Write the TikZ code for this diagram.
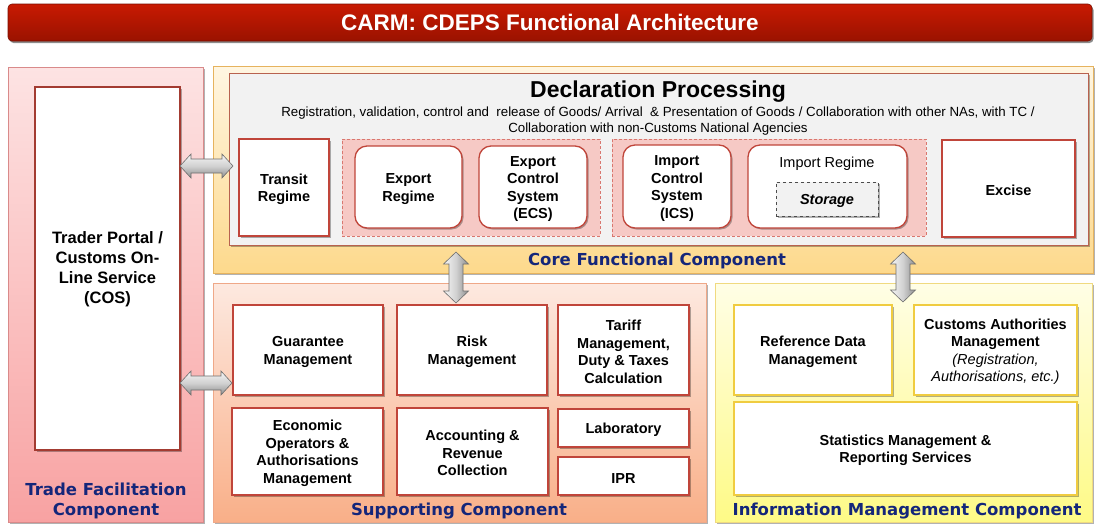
\documentclass[tikz,border=0pt]{standalone}
\usepackage{fontspec}
\setmainfont{Liberation Sans}
\newfontfamily\lblfont{DejaVu Sans}
\usetikzlibrary{shadows,calc}

\definecolor{titleTop}{HTML}{C81A02}
\definecolor{titleBot}{HTML}{9A1200}
\definecolor{tradeTop}{HTML}{FDE3E3}
\definecolor{tradeBot}{HTML}{F8A2A2}
\definecolor{tradeLine}{HTML}{D98A8A}
\definecolor{coreTop}{HTML}{FFF6E2}
\definecolor{coreBot}{HTML}{FDD98C}
\definecolor{coreLine}{HTML}{E6B35E}
\definecolor{suppTop}{HTML}{FDE9E0}
\definecolor{suppBot}{HTML}{F9AF88}
\definecolor{suppLine}{HTML}{EFA888}
\definecolor{infoTop}{HTML}{FFFEE6}
\definecolor{infoBot}{HTML}{FEFA86}
\definecolor{infoLine}{HTML}{F0DA80}
\definecolor{redLine}{HTML}{C0453A}
\definecolor{goldLine}{HTML}{F0CC40}
\definecolor{grpFill}{HTML}{F6C9C5}
\definecolor{grpLine}{HTML}{D9776F}
\definecolor{declFill}{HTML}{F2F2F2}
\definecolor{declLine}{HTML}{B8624F}
\definecolor{navy}{HTML}{14267A}
\definecolor{arrLight}{HTML}{F6F6F6}
\definecolor{arrDark}{HTML}{8E8E8E}
\definecolor{arrLine}{HTML}{6E6E6E}

\newcommand{\myT}{\rule{0pt}{14pt}}
\newcommand{\myHarrow}[2]{%
  \shadedraw[harrowsty] let \p1=(#1), \p2=(#2) in
  (\x1,\y1) -- (\x1+11pt,\y1+12pt) -- (\x1+11pt,\y1+7pt) -- (\x2-11pt,\y1+7pt)
  -- (\x2-11pt,\y1+12pt) -- (\x2,\y1) -- (\x2-11pt,\y1-12pt) -- (\x2-11pt,\y1-7pt)
  -- (\x1+11pt,\y1-7pt) -- (\x1+11pt,\y1-12pt) -- cycle;}
\newcommand{\myVarrow}[2]{%
  \shadedraw[varrowsty] let \p1=(#1), \p2=(#2) in
  (\x1,\y1) -- (\x1+12.5pt,\y1-12pt) -- (\x1+7pt,\y1-12pt) -- (\x1+7pt,\y2+12pt)
  -- (\x1+12.5pt,\y2+12pt) -- (\x1,\y2) -- (\x1-12.5pt,\y2+12pt) -- (\x1-7pt,\y2+12pt)
  -- (\x1-7pt,\y1-12pt) -- (\x1-12.5pt,\y1-12pt) -- cycle;}

\tikzset{
  myshadow/.style={drop shadow={shadow xshift=1.5pt, shadow yshift=-1.5pt, opacity=0.3, fill=black}},
  panel/.style={rectangle, inner sep=0pt, outer sep=0pt, line width=0.8pt, myshadow},
  titlebar/.style={rectangle, rounded corners=4pt, inner sep=0pt, top color=titleTop, bottom color=titleBot,
    draw=titleBot!80!black, line width=0.6pt, text=white, font=\bfseries\fontsize{22.5}{26}\selectfont,
    drop shadow={shadow xshift=1.5pt, shadow yshift=-2pt, opacity=0.45, fill=black}},
  rbox/.style={rectangle, inner sep=0pt, outer sep=0pt, fill=white, draw=redLine, line width=1.3pt,
    align=center, font=\bfseries\fontsize{14.5}{17.5}\selectfont, myshadow},
  rrbox/.style={rbox, rounded corners=12pt},
  ybox/.style={rbox, draw=goldLine},
  grp/.style={rectangle, inner sep=0pt, fill=grpFill, draw=grpLine, densely dashed, line width=0.7pt},
  decl/.style={rectangle, inner sep=0pt, fill=declFill, draw=declLine, line width=1pt, myshadow},
  storebox/.style={rectangle, inner sep=0pt, fill=declFill, draw=black!70, dashed, line width=1pt,
    font=\bfseries\itshape\fontsize{14.5}{17.5}\selectfont, myshadow},
  lbl/.style={inner sep=0pt, align=center, text=navy, font=\lblfont\bfseries\fontsize{16.5}{20}\selectfont},
  txt/.style={inner sep=0pt, align=center, font=\bfseries\fontsize{14.5}{17.5}\selectfont},
  harrowsty/.style={top color=arrLight, bottom color=arrDark, middle color=black!18, draw=arrLine, line width=0.6pt},
  varrowsty/.style={left color=arrLight, right color=arrDark, middle color=black!18, draw=arrLine, line width=0.6pt}
}

\begin{document}
\begin{tikzpicture}[x=1pt, y=-1pt]
\useasboundingbox[fill=white] (0,0) rectangle (1095,523);

% title
\node[titlebar, minimum width=1084pt, minimum height=37pt] (title) at (550,22.5) {CARM: CDEPS Functional Architecture};

% panels
\node[panel, top color=tradeTop, bottom color=tradeBot, draw=tradeLine, minimum width=195pt, minimum height=455pt] (trade) at (105.5,294.5) {};
\node[panel, top color=coreTop, bottom color=coreBot, draw=coreLine, minimum width=880pt, minimum height=207pt] (core) at (653,169.5) {};
\node[panel, top color=suppTop, bottom color=suppBot, draw=suppLine, minimum width=493pt, minimum height=239pt] (supp) at (459.5,402.5) {};
\node[panel, top color=infoTop, bottom color=infoBot, draw=infoLine, minimum width=377pt, minimum height=239pt] (info) at (903.5,402.5) {};

% trade facilitation
\node[rbox, draw=redLine!85!black, font=\bfseries\fontsize{16.5}{20}\selectfont, minimum width=145pt, minimum height=363pt] (trader) at (107.5,268.5) {\myT Trader Portal /\\Customs On-\\Line Service\\(COS)};
\node[lbl] (tradelbl) at (106,501) {Trade Facilitation\\Component};

% core functional
\node[decl, minimum width=859pt, minimum height=172pt] (declbox) at (658.5,159) {};
\node[inner sep=0pt, font=\bfseries\fontsize{23}{27}\selectfont] (decltitle) at (658,92) {Declaration Processing};
\node[inner sep=0pt, align=center, font=\fontsize{13.3}{16}\selectfont] (declsub) at (658,121)
  {Registration, validation, control and~ release of Goods/ Arrival~ \& Presentation of Goods / Collaboration with other NAs, with TC /\\Collaboration with non-Customs National Agencies};

\node[rbox, minimum width=90pt, minimum height=97pt] (transit) at (284,187.5) {\myT Transit\\Regime};
\node[grp, minimum width=258pt, minimum height=97pt] (grpexp) at (471,187.5) {};
\node[rrbox, minimum width=107pt, minimum height=82pt] (export) at (408.5,187) {\myT Export\\Regime};
\node[rrbox, minimum width=108pt, minimum height=82pt] (ecs) at (533,187) {\myT Export\\Control\\System\\(ECS)};
\node[grp, minimum width=314pt, minimum height=97pt] (grpimp) at (769,187.5) {};
\node[rrbox, minimum width=108pt, minimum height=83pt] (ics) at (677,186.5) {\myT Import\\Control\\System\\(ICS)};
\node[rrbox, minimum width=159pt, minimum height=83pt] (import) at (827.5,186.5) {};
\node[txt, font=\fontsize{14.5}{17.5}\selectfont] (importtxt) at (827,163.5) {Import Regime};
\node[storebox, minimum width=102pt, minimum height=34pt] (storage) at (827,199) {\myT Storage};
\node[rbox, minimum width=133pt, minimum height=97pt] (excise) at (1008.5,188.5) {\myT Excise};
\node[lbl] (corelbl) at (657,261) {Core Functional Component};

% supporting
\node[rbox, minimum width=150pt, minimum height=90pt] (guarantee) at (308,350) {\myT Guarantee\\Management};
\node[rbox, minimum width=150pt, minimum height=90pt] (risk) at (472,350) {\myT Risk\\Management};
\node[rbox, minimum width=131pt, minimum height=90pt] (tariff) at (623.5,350) {\myT Tariff\\Management,\\Duty \& Taxes\\Calculation};
\node[rbox, minimum width=151pt, minimum height=87pt] (economic) at (307.5,451.5) {\myT Economic\\Operators \&\\Authorisations\\Management};
\node[rbox, minimum width=151pt, minimum height=87pt] (accounting) at (472.5,451.5) {\myT Accounting \&\\Revenue\\Collection};
\node[rbox, minimum width=131pt, minimum height=38pt] (lab) at (623.5,428) {\myT Laboratory};
\node[rbox, minimum width=131pt, minimum height=38pt] (ipr) at (623.5,476) {\myT IPR};
\node[lbl] (supplbl) at (459,511) {Supporting Component};

% information management
\node[ybox, minimum width=158pt, minimum height=90pt] (refdata) at (813,350) {\myT Reference Data\\Management};
\node[ybox, minimum width=163pt, minimum height=90pt] (custauth) at (995.5,350) {\myT Customs Authorities\\Management\\{\mdseries\itshape (Registration,}\\{\mdseries\itshape Authorisations, etc.)}};
\node[ybox, minimum width=343pt, minimum height=93pt] (stats) at (905.5,448.5) {\myT Statistics Management \&\\Reporting Services};
\node[lbl] (infolbl) at (907,511) {Information Management Component};

% block arrows
\coordinate (h1l) at (trader.east |- 0,166);
\coordinate (h1r) at (233,166);
\coordinate (h2l) at (trader.east |- 0,383);
\coordinate (h2r) at (232,383);
\coordinate (v1t) at (456,252);
\coordinate (v1b) at (456,303);
\coordinate (v2t) at (903,252);
\coordinate (v2b) at (903,302);
\myHarrow{h1l}{h1r}
\myHarrow{h2l}{h2r}
\myVarrow{v1t}{v1b}
\myVarrow{v2t}{v2b}
\end{tikzpicture}
\end{document}
